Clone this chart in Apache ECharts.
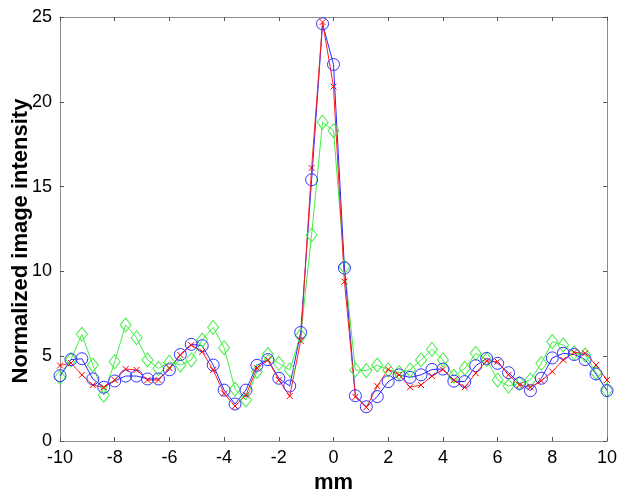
<!DOCTYPE html>
<html>
<head>
<meta charset="utf-8">
<script src="https://cdn.jsdelivr.net/npm/echarts@6/dist/echarts.min.js"></script>
<style>
html, body { margin: 0; padding: 0; background: #fff; }
#main { width: 622px; height: 498px; }
</style>
</head>
<body>
<div id="main"></div>
<script>
// sample positions (mm)
var positions = [-10, -9.6, -9.2, -8.8, -8.4, -8, -7.6, -7.2, -6.8, -6.4,
    -6, -5.6, -5.2, -4.8, -4.4, -4, -3.6, -3.2, -2.8, -2.4,
    -2, -1.6, -1.2, -0.8, -0.4, 0, 0.4, 0.8, 1.2, 1.6,
    2, 2.4, 2.8, 3.2, 3.6, 4, 4.4, 4.8, 5.2, 5.6,
    6, 6.4, 6.8, 7.2, 7.6, 8, 8.4, 8.8, 9.2, 9.6, 10];

var redValues = [4.45, 4.6, 3.9, 3.3, 3.17, 3.6, 4.24, 4.19, 3.6, 3.6,
    4.3, 5.07, 5.66, 5.27, 4.19, 2.8, 2.06, 2.7, 4.3, 4.78,
    3.6, 2.65, 5.9, 16.1, 24.7, 20.9, 9.4, 2.6, 1.98, 3.24,
    4.22, 3.9, 3.17, 3.3, 3.83, 4.22, 3.6, 3.17, 4.0, 4.72,
    4.68, 3.9, 3.3, 3.17, 3.55, 4.09, 4.78, 5.23, 5.17, 4.48, 3.6];

var blueValues = [3.85, 4.8, 4.85, 3.66, 3.17, 3.54, 3.83, 3.83, 3.66, 3.66,
    4.2, 5.1, 5.7, 5.62, 4.48, 3.0, 2.18, 3.0, 4.46, 4.8,
    3.7, 3.24, 6.4, 15.4, 24.6, 22.2, 10.2, 2.67, 2.02, 2.62,
    3.5, 3.9, 3.75, 3.9, 4.22, 4.24, 3.53, 3.5, 4.44, 4.87,
    4.58, 4.03, 3.4, 2.97, 3.7, 4.9, 5.17, 5.1, 4.8, 3.95, 2.97];

var greenValues = [3.75, 4.8, 6.29, 4.48, 2.7, 4.68, 6.84, 6.09, 4.78, 4.28,
    4.65, 4.48, 4.78, 5.95, 6.7, 5.5, 3.05, 2.42, 4.1, 5.1,
    4.58, 4.19, 6.2, 12.15, 18.8, 18.3, 10.28, 4.19, 4.15, 4.48,
    4.19, 4.03, 4.19, 4.78, 5.4, 4.78, 3.82, 4.28, 5.17, 4.8,
    3.6, 3.24, 3.4, 3.6, 4.58, 5.86, 5.66, 5.2, 5.07, 4.03, 3.0];

var xTicks = { min: -10, max: 10, interval: 2 };
var yTicks = { min: 0, max: 25, interval: 5 };

function pairs(vals) {
    return vals.map(function (v, i) { return [positions[i], v]; });
}

var axisGray = '#8c8c8c';
var fontName = 'Arial, "Liberation Sans", sans-serif';

function frameAxis(pos, ticks, showLabels) {
    return {
        type: 'value',
        position: pos,
        min: ticks.min,
        max: ticks.max,
        interval: ticks.interval,
        axisLine: { show: true, onZero: false, lineStyle: { color: axisGray, width: 1 } },
        axisTick: { show: true, inside: true, length: 4, lineStyle: { color: '#555' } },
        axisLabel: {
            show: showLabels,
            color: '#000',
            fontSize: 18,
            fontFamily: fontName,
            margin: 8
        },
        splitLine: { show: false }
    };
}

var xBottom = frameAxis('bottom', xTicks, true);
xBottom.name = 'mm';
xBottom.nameLocation = 'middle';
xBottom.nameGap = 31;
xBottom.nameMoveOverlap = false;
xBottom.nameTextStyle = { fontSize: 22, fontWeight: 'bold', color: '#000', fontFamily: fontName };

var yLeft = frameAxis('left', yTicks, true);
yLeft.name = 'Normalized image intensity';
yLeft.nameLocation = 'middle';
yLeft.nameGap = 28;
yLeft.nameMoveOverlap = false;
yLeft.nameTextStyle = {
    fontSize: 22, fontWeight: 'bold', color: '#000', fontFamily: fontName,
    padding: [0, 24, 0, 0]
};

var mainDiv = document.getElementById('main');
var myChart = echarts.init(mainDiv);

var option = {
    backgroundColor: '#ffffff',
    animation: false,
    grid: { left: 60, right: 15, top: 17, bottom: 57, outerBoundsMode: 'none' },
    xAxis: [xBottom, frameAxis('top', xTicks, false)],
    yAxis: [yLeft, frameAxis('right', yTicks, false)],
    series: [
        {
            name: 'green',
            type: 'line',
            data: pairs(greenValues),
            symbol: 'diamond',
            symbolSize: [11, 14],
            lineStyle: { color: '#44ee44', width: 1 },
            itemStyle: { color: 'rgba(0,0,0,0)', borderColor: '#44ee44', borderWidth: 1 }
        },
        {
            name: 'blue',
            type: 'line',
            data: pairs(blueValues),
            symbol: 'circle',
            symbolSize: 12,
            lineStyle: { color: '#2a2aff', width: 1 },
            itemStyle: { color: 'rgba(0,0,0,0)', borderColor: '#3333ff', borderWidth: 1 }
        },
        {
            name: 'red',
            type: 'line',
            data: pairs(redValues),
            symbol: 'path://M0,0L10,10M10,0L0,10',
            symbolSize: 6,
            lineStyle: { color: '#ff2020', width: 1 },
            itemStyle: { color: 'rgba(0,0,0,0)', borderColor: '#ff0000', borderWidth: 1 }
        }
    ]
};
myChart.setOption(option);
</script>
</body>
</html>
